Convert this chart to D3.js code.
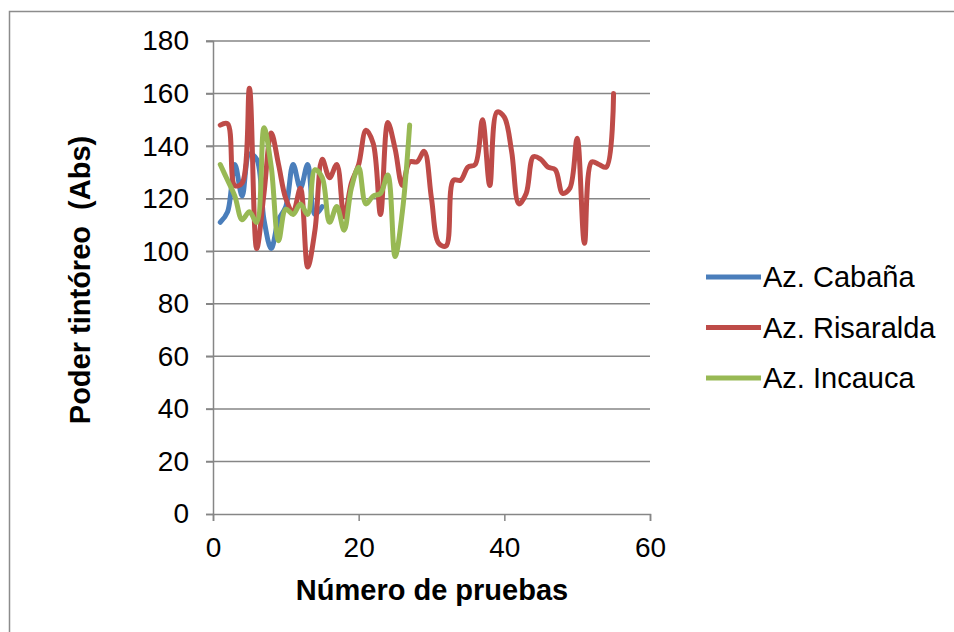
<!DOCTYPE html>
<html>
<head>
<meta charset="utf-8">
<script src="https://cdn.jsdelivr.net/npm/d3@7"></script>
<style>
  html, body { margin: 0; padding: 0; background: #fff; }
  svg { display: block; font-family: "Liberation Sans", Arial, sans-serif; }
</style>
</head>
<body>
<svg id="chart" width="954" height="632"></svg>
<script>
// Trial number (x) and dyeing power readings (Abs) for each sugar mill
const cabanaValues = [111, 115, 133, 121, 137, 135, 112, 101, 112, 117, 133, 124, 133, 114, 117];
const risaraldaValues = [148, 148.5, 125, 126, 162, 101, 122, 145, 133, 120, 115, 124, 94, 108, 135,
  128, 133, 113, 126, 133, 146, 141, 114, 149, 139, 125, 134, 134, 138, 120,
  103, 102, 127, 127, 132, 133, 150, 125, 153, 151, 138, 118, 122, 136, 135,
  132, 131, 122, 124, 143, 103, 134, 133, 132, 160];
const incaucaValues = [133, 127, 121, 112, 115, 111, 147, 132, 104, 116, 114, 118, 114, 131, 128,
  111, 117, 108, 124, 132, 118, 121, 122, 129, 98, 115, 148];

const seriesNames = ["Az. Cabaña", "Az. Risaralda", "Az. Incauca"];
const seriesColors = ["#4A7EBB", "#BE4B48", "#98B954"];
const yTicks = [0, 20, 40, 60, 80, 100, 120, 140, 160, 180];
const xTicks = [0, 20, 40, 60];

(function draw() {
  const series = [cabanaValues, risaraldaValues, incaucaValues].map((vals, i) => ({
    name: seriesNames[i],
    color: seriesColors[i],
    points: vals.map((v, j) => ({ x: j + 1, y: v }))
  }));

  const svg = d3.select("#chart");
  const W = 954, H = 632;

  // outer frame
  svg.append("path")
    .attr("d", `M9.5,${H + 5} V11.5 H${W + 5}`)
    .attr("fill", "none")
    .attr("stroke", "#8c8c8c")
    .attr("stroke-width", 1.5);

  const plotLeft = 213, plotRight = 650, plotTop = 41, plotBottom = 514;
  const x = d3.scaleLinear().domain([0, 60]).range([plotLeft, plotRight]);
  const y = d3.scaleLinear().domain([0, 180]).range([plotBottom, plotTop]);

  const gridColor = "#868686";

  // horizontal gridlines
  svg.append("g")
    .selectAll("line")
    .data(yTicks.filter(t => t > 0))
    .join("line")
    .attr("x1", plotLeft - 7).attr("x2", plotRight)
    .attr("y1", d => y(d)).attr("y2", d => y(d))
    .attr("stroke", gridColor).attr("stroke-width", 1.5);

  // y axis
  const yAxis = svg.append("g")
    .attr("transform", `translate(${plotLeft},0)`)
    .call(d3.axisLeft(y).tickValues(yTicks).tickSize(7).tickPadding(17).tickFormat(d3.format("d")));
  yAxis.select(".domain").attr("stroke", gridColor).attr("stroke-width", 1.5);
  yAxis.selectAll(".tick line").attr("stroke", gridColor).attr("stroke-width", 1.5);
  yAxis.selectAll(".tick text")
    .attr("font-size", 28).attr("fill", "#000")
    .attr("font-family", "Liberation Sans, Arial, sans-serif");

  // x axis
  const xAxis = svg.append("g")
    .attr("transform", `translate(0,${plotBottom})`)
    .call(d3.axisBottom(x).tickValues(xTicks).tickSize(7).tickPadding(16).tickFormat(d3.format("d")));
  xAxis.select(".domain").attr("stroke", gridColor).attr("stroke-width", 1.5);
  xAxis.selectAll(".tick line").attr("stroke", gridColor).attr("stroke-width", 1.5);
  xAxis.selectAll(".tick text")
    .attr("font-size", 28).attr("fill", "#000")
    .attr("font-family", "Liberation Sans, Arial, sans-serif");

  // series lines
  const line = d3.line()
    .x(d => x(d.x))
    .y(d => y(d.y))
    .curve(d3.curveCatmullRom.alpha(0.5));

  svg.append("g")
    .selectAll("path")
    .data(series)
    .join("path")
    .attr("d", d => line(d.points))
    .attr("fill", "none")
    .attr("stroke", d => d.color)
    .attr("stroke-width", 5)
    .attr("stroke-linejoin", "round")
    .attr("stroke-linecap", "round");

  // axis titles
  svg.append("text")
    .attr("x", 432).attr("y", 600)
    .attr("text-anchor", "middle")
    .attr("font-size", 29).attr("font-weight", "bold")
    .text("Número de pruebas");

  svg.append("text")
    .attr("transform", "translate(90,280) rotate(-90)")
    .attr("text-anchor", "middle")
    .attr("font-size", 29).attr("font-weight", "bold")
    .style("white-space", "pre")
    .text("Poder tintóreo  (Abs)");

  // legend
  const legend = svg.append("g")
    .selectAll("g")
    .data(series)
    .join("g")
    .attr("transform", (d, i) => `translate(706,${277 + i * 50.5})`);
  legend.append("line")
    .attr("x1", 0).attr("x2", 55)
    .attr("stroke", d => d.color).attr("stroke-width", 5);
  legend.append("text")
    .attr("x", 57).attr("y", 10)
    .attr("font-size", 29)
    .text(d => d.name);
})();
</script>
</body>
</html>
